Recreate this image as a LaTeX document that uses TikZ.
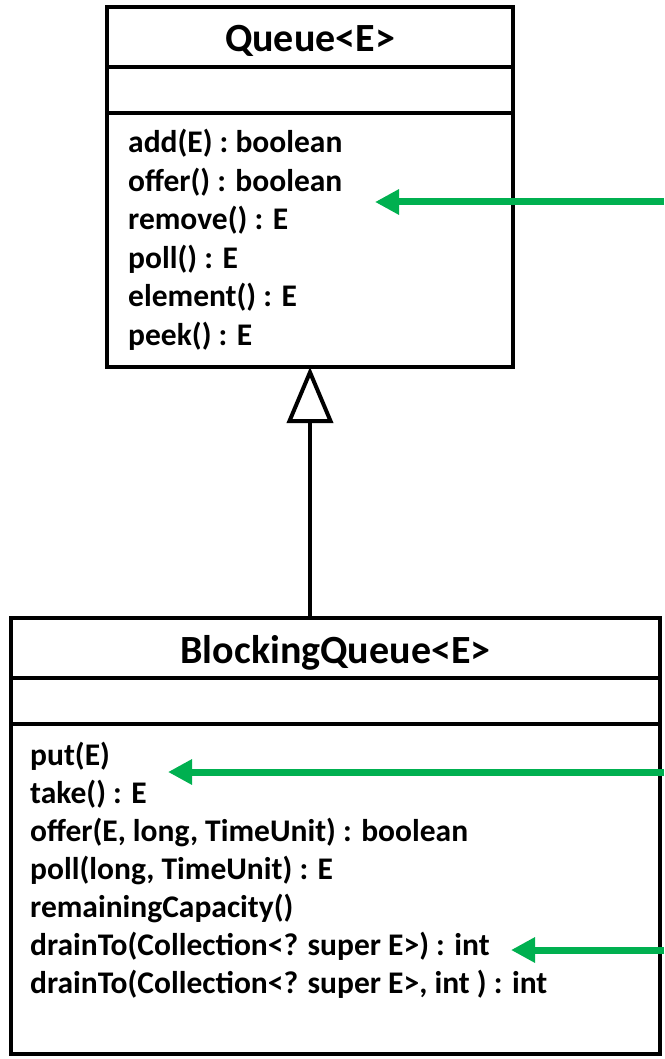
\documentclass[tikz,border=0pt]{standalone}
\usepackage{fontspec}
\setmainfont{Carlito}
\usetikzlibrary{arrows.meta}
\definecolor{pgreen}{RGB}{0,176,80}
\tikzset{
  comp/.style={draw=black, line width=4pt, outer sep=0pt, inner sep=0pt, anchor=north west},
  titletext/.style={anchor=base, inner sep=0pt, font=\bfseries\fontsize{40}{48}\selectfont},
  methtext/.style={anchor=base west, inner sep=0pt, font=\bfseries\fontsize{31.5}{38}\selectfont},
  greenarrow/.style={draw=pgreen, line width=7pt, -{Triangle[length=24pt, width=24pt]}},
  inherit/.style={draw=black, line width=4pt, -{Triangle[open, length=56pt, width=46pt, line width=4pt]}}
}
\begin{document}
\begin{tikzpicture}[x=1pt, y=-1pt]
\useasboundingbox (0,0) rectangle (664,1059);
% Queue<E>
\node[comp, minimum width=406pt, minimum height=60pt] (qtitle) at (107,7) {};
\node[comp, minimum width=406pt, minimum height=46pt] (qattr) at (107,67) {};
\node[comp, minimum width=406pt, minimum height=254pt] (qmeth) at (107,113) {};
\node[titletext] (qname) at (310,52) {Queue<E>};
\foreach \t [count=\i] in {add(E) : boolean, offer() : boolean, remove() : E, poll() : E, element() : E, peek() : E}{
  \node[methtext] (qm\i) at (128,{153+38.4*(\i-1)}) {\t};
}
% BlockingQueue<E>
\node[comp, minimum width=649pt, minimum height=60pt] (btitle) at (11,618) {};
\node[comp, minimum width=649pt, minimum height=46pt] (battr) at (11,678) {};
\node[comp, minimum width=649pt, minimum height=330pt] (bmeth) at (11,724) {};
\node[titletext] (bname) at (335.5,663) {BlockingQueue<E>};
\foreach \t [count=\i] in {put(E), take() : E, {offer(E, long, TimeUnit) : boolean}, {poll(long, TimeUnit) : E}, remainingCapacity(), {drainTo(Collection<? super E>) : int}, {drainTo(Collection<? super E>, int ) : int}}{
  \node[methtext] (bm\i) at (30,{765+38.1*(\i-1)}) {\t};
}
% inheritance
\draw[inherit] (qmeth.south |- btitle.north) -- (qmeth.south);
% green arrows
\coordinate (g1s) at (664,202); \coordinate (g1e) at (375,202);
\coordinate (g2s) at (664,772); \coordinate (g2e) at (168,772);
\coordinate (g3s) at (664,950); \coordinate (g3e) at (511,950);
\draw[greenarrow] (g1s) -- (g1e);
\draw[greenarrow] (g2s) -- (g2e);
\draw[greenarrow] (g3s) -- (g3e);
\end{tikzpicture}
\end{document}
